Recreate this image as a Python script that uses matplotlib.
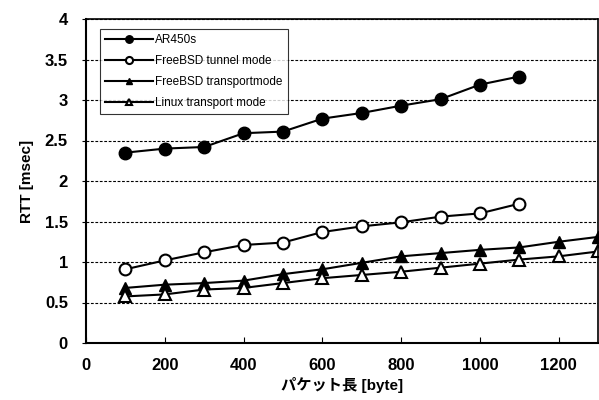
import matplotlib
matplotlib.use('Agg')
import matplotlib.pyplot as plt

plt.rcParams['font.family'] = ['Liberation Sans', 'Noto Sans CJK JP', 'DejaVu Sans']

# packet size [byte]
sizes_short = [100, 200, 300, 400, 500, 600, 700, 800, 900, 1000, 1100]
sizes_long = [100, 200, 300, 400, 500, 600, 700, 800, 900, 1000, 1100, 1200, 1300]

# RTT [msec]
ar450s = [2.35, 2.40, 2.42, 2.59, 2.61, 2.77, 2.84, 2.93, 3.01, 3.19, 3.29]
bsd_tunnel = [0.91, 1.02, 1.12, 1.21, 1.24, 1.37, 1.44, 1.49, 1.56, 1.60, 1.72]
bsd_transport = [0.68, 0.72, 0.74, 0.77, 0.85, 0.91, 0.99, 1.07, 1.11, 1.15, 1.18, 1.25, 1.31]
linux_transport = [0.575, 0.60, 0.66, 0.68, 0.74, 0.80, 0.84, 0.88, 0.93, 0.98, 1.03, 1.07, 1.13]

labels = ['AR450s', 'FreeBSD tunnel mode', 'FreeBSD transportmode', 'Linux transport mode']

fig = plt.figure(figsize=(5.99, 4.0), dpi=100)
ax = fig.add_axes([0.1436, 0.1425, 0.855, 0.81])

ax.plot(sizes_short, ar450s, '-o', color='k', lw=1.5, ms=9,
        mfc='k', mec='k', label=labels[0], clip_on=False)
ax.plot(sizes_short, bsd_tunnel, '-o', color='k', lw=1.5, ms=8.5,
        mfc='white', mec='k', mew=1.5, label=labels[1], clip_on=False)
ax.plot(sizes_long, bsd_transport, '-^', color='k', lw=1.5, ms=8,
        mfc='k', mec='k', label=labels[2], clip_on=False)
ax.plot(sizes_long, linux_transport, '-^', color='k', lw=1.5, ms=8,
        mfc='white', mec='k', mew=1.5, label=labels[3], clip_on=False)

ax.set_xlim(0, 1300)
ax.set_ylim(0, 4)
ax.set_xticks([0, 200, 400, 600, 800, 1000, 1200])
ax.set_yticks([0, 0.5, 1, 1.5, 2, 2.5, 3, 3.5, 4])
ax.set_yticklabels(['0', '0.5', '1', '1.5', '2', '2.5', '3', '3.5', '4'])
ax.yaxis.grid(True, linestyle=(0, (2.5, 1.5)), color='k', lw=0.8)
ax.set_axisbelow(True)

ax.spines['left'].set_linewidth(1.5)
ax.spines['bottom'].set_linewidth(1.5)
ax.spines['top'].set_linestyle((0, (1, 1)))
ax.spines['right'].set_linestyle((0, (1, 1)))
ax.spines['top'].set_linewidth(1.2)
ax.spines['right'].set_linewidth(1.2)

ax.tick_params(axis='x', direction='in', length=4, width=0.8, pad=11, labelsize=12)
ax.tick_params(axis='y', direction='out', length=3, width=0.8, pad=10, labelsize=12)
for t in ax.get_xticklabels() + ax.get_yticklabels():
    t.set_fontweight('bold')

ax.set_ylabel('RTT [msec]', fontsize=11, fontweight='bold', labelpad=8)
ax.set_xlabel('パケット長 [byte]', fontsize=11, fontweight='bold', labelpad=3)

leg = ax.legend(loc='upper left', bbox_to_anchor=(0.016, 0.988), fontsize=8.5,
                handlelength=4.0, markerscale=0.6, frameon=True, fancybox=False,
                edgecolor='k', labelspacing=0.75, borderpad=0.45, handletextpad=0.2)
leg.get_frame().set_linewidth(0.8)

fig.savefig('out.png', dpi=100)
